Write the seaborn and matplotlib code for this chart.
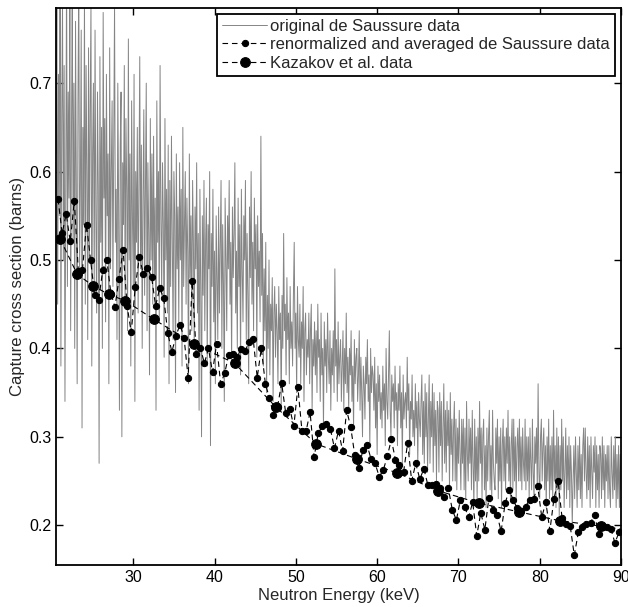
import numpy as np
import pandas as pd
import matplotlib
matplotlib.use("Agg")
import matplotlib.pyplot as plt
import seaborn as sns

# original de Saussure data, sampled every 0.1 keV from 20.5 keV (one row = 1 keV)
orig_start, orig_step = 20.5, 0.1
orig_xs = [
    .62, .80, .45, .71, .55, .85, .38, .66, .79, .50,
    .72, .34, .60, .83, .47, .69, .57, .80, .42, .64,
    .81, .52, .70, .40, .77, .58, .36, .68, .82, .49,
    .59, .76, .31, .65, .54, .80, .45, .72, .60, .41,
    .74, .50, .67, .79, .38, .62, .70, .46, .76, .55,
    .44, .69, .58, .27, .73, .52, .65, .40, .78, .57,
    .66, .43, .71, .55, .62, .36, .74, .49, .60, .68,
    .47, .64, .79, .52, .58, .41, .70, .56, .33, .63,
    .69, .30, .61, .54, .72, .45, .66, .58, .42, .75,
    .50, .62, .38, .68, .55, .47, .71, .34, .60, .52,
    .65, .44, .59, .73, .49, .63, .40, .57, .67, .46,
    .58, .70, .42, .61, .53, .37, .66, .50, .62, .45,
    .64, .48, .57, .33, .68, .52, .60, .43, .72, .55,
    .46, .61, .54, .39, .66, .50, .58, .44, .63, .36,
    .59, .47, .64, .52, .41, .60, .55, .35, .62, .49,
    .56, .43, .61, .50, .58, .38, .65, .47, .54, .60,
    .45, .57, .51, .36, .62, .48, .55, .42, .59, .52,
    .40, .56, .49, .61, .44, .53, .33, .58, .47, .30,
    .55, .46, .59, .42, .52, .57, .38, .54, .49, .60,
    .29, .53, .47, .58, .43, .51, .36, .55, .48, .41,
    .56, .44, .52, .59, .40, .54, .47, .34, .57, .50,
    .42, .55, .49, .59, .45, .52, .38, .56, .48, .53,
    .61, .44, .51, .40, .57, .47, .54, .37, .58, .49,
    .43, .55, .50, .59, .41, .53, .46, .36, .56, .48,
    .60, .45, .52, .42, .57, .49, .54, .39, .55, .47,
    .51, .43, .64, .46, .53, .38, .49, .42, .52, .35,
    .46, .40, .50, .37, .45, .42, .48, .34, .44, .47,
    .39, .45, .42, .36, .47, .41, .44, .33, .46, .40,
    .53, .42, .45, .37, .48, .41, .44, .36, .47, .40,
    .43, .38, .46, .52, .40, .44, .35, .47, .41, .39,
    .45, .36, .43, .40, .47, .34, .42, .44, .37, .41,
    .39, .44, .36, .42, .45, .33, .41, .38, .43, .37,
    .42, .35, .45, .39, .41, .34, .44, .37, .40, .31,
    .43, .38, .41, .35, .44, .39, .36, .42, .33, .40,
    .37, .42, .35, .49, .38, .41, .34, .43, .36, .39,
    .41, .34, .38, .42, .33, .40, .36, .44, .35, .39,
    .33, .40, .37, .42, .34, .38, .31, .41, .36, .39,
    .40, .34, .37, .42, .33, .39, .35, .30, .38, .36,
    .32, .39, .36, .41, .34, .37, .29, .40, .35, .38,
    .37, .33, .39, .31, .36, .28, .38, .34, .37, .32,
    .35, .31, .38, .33, .36, .29, .40, .34, .32, .37,
    .42, .33, .30, .37, .34, .36, .31, .38, .33, .35,
    .29, .36, .33, .38, .31, .35, .27, .37, .32, .34,
    .35, .31, .39, .33, .36, .28, .34, .32, .37, .30,
    .33, .29, .36, .31, .34, .27, .35, .32, .30, .34,
    .37, .28, .34, .27, .36, .30, .35, .26, .32, .37,
    .27, .34, .30, .36, .26, .35, .29, .33, .25, .34,
    .33, .26, .35, .29, .34, .25, .31, .36, .27, .33,
    .26, .34, .29, .33, .24, .35, .28, .32, .25, .31,
    .34, .25, .32, .24, .31, .27, .33, .28, .24, .32,
    .27, .32, .24, .31, .23, .34, .28, .25, .32, .27,
    .31, .24, .33, .27, .22, .32, .25, .30, .23, .31,
    .25, .34, .27, .31, .23, .30, .32, .24, .29, .22,
    .31, .25, .30, .33, .24, .29, .23, .33, .27, .25,
    .24, .31, .27, .32, .23, .30, .25, .31, .22, .29,
    .32, .25, .30, .24, .31, .27, .33, .25, .30, .23,
    .29, .32, .24, .32, .25, .30, .23, .29, .31, .25,
    .32, .25, .30, .24, .31, .27, .25, .32, .24, .30,
    .25, .30, .23, .31, .27, .24, .32, .26, .23, .30,
    .27, .31, .24, .36, .26, .23, .30, .32, .25, .29,
    .31, .24, .29, .22, .30, .25, .32, .23, .29, .24,
    .30, .23, .33, .25, .29, .22, .31, .24, .30, .21,
    .29, .24, .32, .25, .30, .22, .26, .31, .23, .29,
    .24, .30, .22, .29, .26, .20, .25, .29, .23, .30,
    .26, .22, .29, .24, .30, .23, .28, .22, .29, .31,
    .25, .31, .26, .23, .30, .24, .29, .22, .30, .26,
    .23, .29, .26, .30, .22, .29, .24, .28, .22, .29,
    .28, .23, .30, .24, .29, .22, .28, .25, .29, .23,
    .29, .24, .22, .30, .26, .23, .29, .24, .30, .22,
    .28, .23, .29, .22, .28, .24, .29, .23, .28, .25,
]

# renormalized and averaged de Saussure data, every 0.5 keV from 20.75 keV
renorm_start, renorm_step = 20.75, 0.5
renorm_xs = [
    0.569, 0.530, 0.552, 0.521, 0.567, 0.487, 0.489, 0.540, 0.500, 0.460,
    0.455, 0.489, 0.500, 0.462, 0.447, 0.479, 0.511, 0.448, 0.418, 0.470,
    0.503, 0.484, 0.491, 0.481, 0.448, 0.468, 0.457, 0.417, 0.396, 0.414,
    0.427, 0.412, 0.367, 0.476, 0.394, 0.401, 0.383, 0.400, 0.373, 0.405,
    0.360, 0.372, 0.393, 0.394, 0.390, 0.399, 0.397, 0.407, 0.411, 0.367,
    0.400, 0.360, 0.344, 0.325, 0.334, 0.361, 0.327, 0.332, 0.312, 0.356,
    0.307, 0.306, 0.328, 0.277, 0.304, 0.312, 0.314, 0.309, 0.287, 0.307,
    0.284, 0.330, 0.311, 0.279, 0.265, 0.285, 0.291, 0.275, 0.270, 0.255,
    0.262, 0.278, 0.297, 0.274, 0.268, 0.260, 0.293, 0.250, 0.270, 0.252,
    0.264, 0.245, 0.245, 0.247, 0.242, 0.232, 0.242, 0.217, 0.206, 0.229,
    0.221, 0.209, 0.226, 0.188, 0.214, 0.195, 0.231, 0.217, 0.212, 0.193,
    0.225, 0.240, 0.228, 0.219, 0.216, 0.221, 0.229, 0.230, 0.244, 0.209,
    0.226, 0.194, 0.230, 0.250, 0.208, 0.201, 0.199, 0.166, 0.192, 0.198,
    0.201, 0.203, 0.212, 0.190, 0.198, 0.198, 0.196, 0.180, 0.192,
]

# Kazakov et al. data
kaz_e = [21.0, 23.1, 25.0, 27.0, 29.0, 32.5, 37.5, 42.5, 47.5, 52.5,
         57.5, 62.5, 67.5, 72.5, 77.5, 82.5, 87.5, 92.5]
kaz_xs = [0.524, 0.484, 0.471, 0.461, 0.454, 0.433, 0.405, 0.383, 0.334, 0.292,
          0.275, 0.259, 0.239, 0.225, 0.215, 0.205, 0.199, 0.192]

orig_e = np.round(orig_start + orig_step * np.arange(len(orig_xs)), 2)
renorm_e = np.round(renorm_start + renorm_step * np.arange(len(renorm_xs)), 2)

sns.set_style("ticks")
plt.rcParams['font.family'] = ['Liberation Sans', 'DejaVu Sans']

fig = plt.figure(figsize=(6.28, 6.07), dpi=100)
ax = fig.add_axes([0.0892, 0.0692, 0.8997, 0.9176])

sns.lineplot(x=orig_e, y=orig_xs, ax=ax, color='#858585', lw=0.7,
             estimator=None, sort=False, label='original de Saussure data')
sns.lineplot(x=renorm_e, y=renorm_xs, ax=ax, color='black', lw=0.8,
             marker='o', markersize=4.5, mec='black', mfc='black',
             estimator=None, sort=False,
             label='renormalized and averaged de Saussure data')
sns.lineplot(x=kaz_e, y=kaz_xs, ax=ax, color='black', lw=0.8,
             marker='o', markersize=7, mec='black', mfc='black',
             estimator=None, sort=False, label='Kazakov et al. data')

for line in ax.lines[1:]:
    line.set_dashes([5, 3.5])

ax.set_xlim(20.5, 90)
ax.set_ylim(0.155, 0.785)
ax.set_xticks([30, 40, 50, 60, 70, 80, 90])
ax.set_yticks([0.2, 0.3, 0.4, 0.5, 0.6, 0.7])
ax.tick_params(direction='in', top=True, right=True, length=5, width=1,
               labelsize=11.5, colors='black')
for sp in ax.spines.values():
    sp.set_linewidth(1.3)
    sp.set_color('black')

ax.set_xlabel('Neutron Energy (keV)', fontsize=12, labelpad=2)
ax.set_ylabel('Capture cross section (barns)', fontsize=12, labelpad=3)

leg = ax.legend(loc='upper right', fontsize=12, frameon=True, fancybox=False,
                edgecolor='black', framealpha=1, handlelength=2.7,
                labelspacing=0.2, borderaxespad=0.35, borderpad=0.3,
                handletextpad=0.2)
leg.get_frame().set_linewidth(1.3)

fig.savefig('out.png', dpi=100)
